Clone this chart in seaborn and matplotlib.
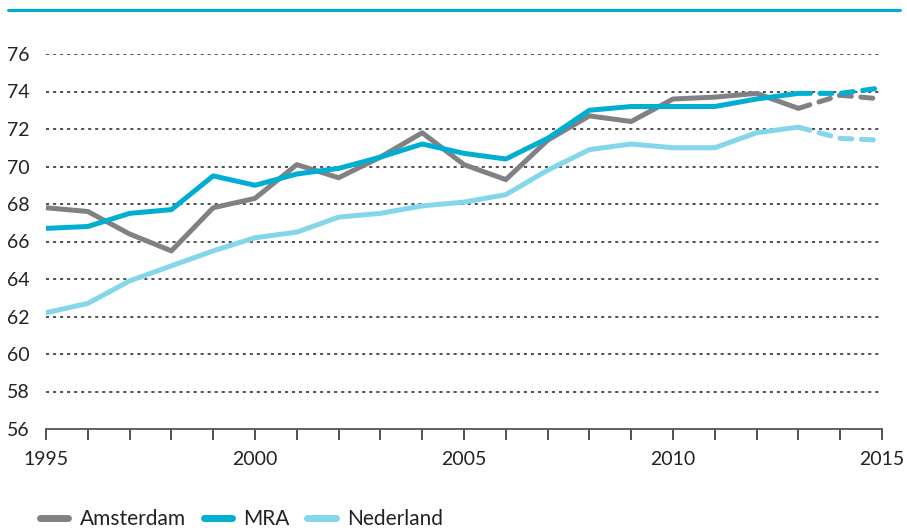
import matplotlib
matplotlib.use("Agg")
import matplotlib.pyplot as plt
from matplotlib.ticker import MultipleLocator
import seaborn as sns
import pandas as pd

years = list(range(1995, 2014))
amsterdam = [67.8, 67.6, 66.4, 65.5, 67.8, 68.3, 70.1, 69.4, 70.5, 71.8,
             70.1, 69.3, 71.4, 72.7, 72.4, 73.6, 73.7, 73.9, 73.1]
mra = [66.7, 66.8, 67.5, 67.7, 69.5, 69.0, 69.6, 69.9, 70.5, 71.2,
       70.7, 70.4, 71.5, 73.0, 73.2, 73.2, 73.2, 73.6, 73.9]
nederland = [62.2, 62.7, 63.9, 64.7, 65.5, 66.2, 66.5, 67.3, 67.5, 67.9,
             68.1, 68.5, 69.8, 70.9, 71.2, 71.0, 71.0, 71.8, 72.1]

proj_years = [2013, 2014, 2015]
amsterdam_proj = [73.1, 73.8, 73.6]
mra_proj = [73.9, 73.9, 74.2]
nederland_proj = [72.1, 71.5, 71.4]

series = ["Amsterdam", "MRA", "Nederland"]
colors = ["#808184", "#00AED2", "#84D6EA"]
y_ticks = list(range(56, 77, 2))

sns.set_style("white")
plt.rcParams["font.family"] = ["Lato", "DejaVu Sans"]

fig = plt.figure(figsize=(9.07, 5.32), dpi=100)
ax = fig.add_axes([46 / 907, 1 - 429 / 532, (882 - 46) / 907, (429 - 54) / 532])

solid = [amsterdam, mra, nederland]
dashed = [amsterdam_proj, mra_proj, nederland_proj]
lw = 3.6
for name, col, ys, yp in zip(series, colors, solid, dashed):
    df = pd.DataFrame({"jaar": years, "waarde": ys})
    sns.lineplot(data=df, x="jaar", y="waarde", color=col, lw=lw, ax=ax,
                 label=name, clip_on=False, solid_capstyle="butt", zorder=3)
    dfp = pd.DataFrame({"jaar": proj_years, "waarde": yp})
    sns.lineplot(data=dfp, x="jaar", y="waarde", color=col, lw=lw, ax=ax,
                 clip_on=False, zorder=3)
    ln = ax.lines[-1]
    ln.set_dashes([2.4, 1.9])
    ln.set_dash_capstyle("round")

ax.set_xlim(1995, 2015)
ax.set_ylim(56, 76)
ax.set_yticks(y_ticks)
ax.set_xticks([1995, 2000, 2005, 2010, 2015])
ax.xaxis.set_minor_locator(MultipleLocator(1))
ax.set_xlabel("")
ax.set_ylabel("")

for y in y_ticks[1:]:
    ax.axhline(y, color="#222222", lw=1.1, ls=(0, (2, 2.6)), zorder=1)

for s in ["top", "right", "left"]:
    ax.spines[s].set_visible(False)
ax.spines["bottom"].set_color("#555555")
ax.spines["bottom"].set_linewidth(1.3)

ax.tick_params(axis="y", length=0, labelsize=14, pad=12, colors="#222222")
ax.tick_params(axis="x", which="both", direction="out", length=8, width=1.2,
               color="#333333", labelsize=14, pad=8, labelcolor="#222222", bottom=True)

leg = ax.legend(loc="lower left", bbox_to_anchor=(32 / 907, -0.01), bbox_transform=fig.transFigure,
                ncol=3, frameon=False, fontsize=15, handlelength=1.35, handletextpad=0.55,
                columnspacing=0.85, borderaxespad=0)
for h in leg.get_lines():
    h.set_linewidth(5)
    h.set_solid_capstyle("round")
for t in leg.get_texts():
    t.set_color("#222222")

fig.add_artist(plt.Line2D([8 / 907, 900 / 907], [1 - 10 / 532, 1 - 10 / 532],
                          color="#00AED2", lw=2.2, transform=fig.transFigure))

fig.savefig("out.png", dpi=100)
